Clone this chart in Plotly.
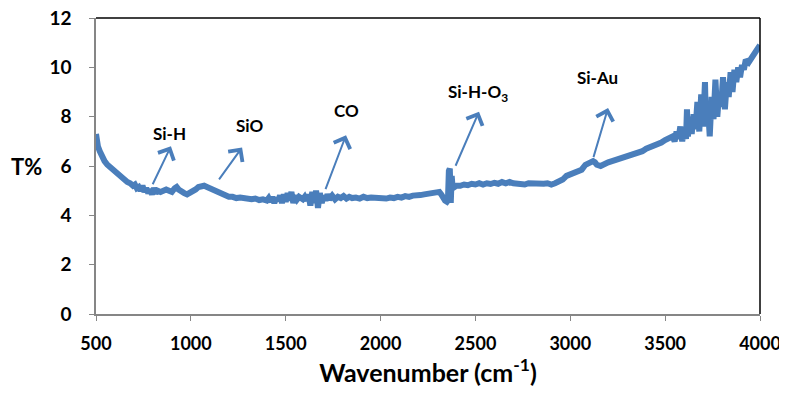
import plotly.graph_objects as go

wavenumber = [500, 505, 510, 520, 530, 545, 560, 575, 590, 605, 620, 635, 650, 665, 680, 695, 705, 715, 725, 735,
              745, 755, 765, 775, 785, 795, 805, 815, 825, 840, 855, 870, 885, 900, 915, 925, 935, 950, 965, 980,
              995, 1010, 1025, 1040, 1055, 1070, 1085, 1100, 1115, 1130, 1145, 1160, 1180, 1200, 1220, 1240, 1260,
              1280, 1300, 1320, 1340, 1360, 1380, 1400, 1410, 1420, 1430, 1440, 1450, 1460, 1470, 1480, 1490, 1500,
              1510, 1520, 1530, 1540, 1550, 1560, 1570, 1580, 1590, 1600, 1610, 1620, 1630, 1640, 1650, 1660, 1670,
              1680, 1690, 1700, 1710, 1720, 1730, 1745, 1760, 1775, 1790, 1805, 1820, 1835, 1850, 1870, 1890, 1910,
              1930, 1950, 1970, 1990, 2010, 2030, 2050, 2070, 2090, 2110, 2130, 2150, 2170, 2190, 2210, 2230, 2250,
              2270, 2290, 2310, 2320, 2330, 2340, 2350, 2355, 2360, 2365, 2370, 2375, 2380, 2390, 2400, 2420, 2440,
              2460, 2480, 2500, 2520, 2540, 2560, 2580, 2600, 2620, 2640, 2660, 2680, 2700, 2720, 2740, 2760, 2780,
              2800, 2820, 2840, 2860, 2880, 2900, 2920, 2940, 2960, 2980, 3000, 3020, 3040, 3060, 3080, 3100, 3120,
              3130, 3140, 3160, 3180, 3200, 3220, 3240, 3260, 3280, 3300, 3320, 3340, 3360, 3380, 3400, 3420, 3440,
              3460, 3480, 3500, 3520, 3540, 3550, 3560, 3570, 3580, 3590, 3600, 3610, 3615, 3620, 3630, 3640, 3650,
              3660, 3670, 3680, 3690, 3700, 3710, 3715, 3725, 3735, 3745, 3755, 3765, 3775, 3785, 3795, 3805, 3815,
              3825, 3835, 3845, 3855, 3865, 3875, 3885, 3895, 3905, 3915, 3925, 3940, 3955, 3970, 3985, 4000]

transmittance = [7.3, 7.0, 6.8, 6.6, 6.4, 6.2, 6.05, 5.95, 5.8, 5.7, 5.6, 5.5, 5.45, 5.35, 5.3, 5.2, 5.25, 5.1, 5.15, 5.0,
                 5.2, 4.95, 5.1, 4.9, 5.05, 4.85, 5.1, 4.9, 5.0, 4.95, 5.0, 5.05, 5.0, 4.95, 5.1, 5.15, 5.05, 4.95, 4.9, 4.85,
                 4.9, 4.95, 5.05, 5.15, 5.2, 5.2, 5.15, 5.1, 5.0, 4.95, 4.9, 4.85, 4.8, 4.75, 4.75, 4.7, 4.72,
                 4.68, 4.7, 4.65, 4.68, 4.62, 4.65, 4.6, 4.7, 4.55, 4.75, 4.5, 4.7, 4.6, 4.8, 4.5, 4.85, 4.55,
                 4.9, 4.6, 4.95, 4.5, 4.8, 4.65, 4.75, 4.7, 4.65, 4.75, 4.6, 4.85, 4.4, 4.95, 4.5, 5.0, 4.3,
                 4.9, 4.5, 4.8, 4.6, 4.85, 4.65, 4.8, 4.65, 4.75, 4.7, 4.78, 4.68, 4.75, 4.7, 4.72, 4.68, 4.75,
                 4.7, 4.72, 4.7, 4.68, 4.7, 4.68, 4.72, 4.7, 4.75, 4.72, 4.78, 4.75, 4.8, 4.78, 4.82, 4.85, 4.88,
                 4.85, 4.9, 4.95, 4.85, 4.7, 4.6, 4.55, 4.6, 5.8, 5.9, 4.5, 5.6, 5.1, 5.15, 5.2, 5.2, 5.25,
                 5.22, 5.28, 5.25, 5.3, 5.25, 5.3, 5.27, 5.32, 5.28, 5.35, 5.3, 5.35, 5.3, 5.28, 5.32, 5.25, 5.3,
                 5.28, 5.32, 5.25, 5.28, 5.3, 5.25, 5.3, 5.35, 5.45, 5.6, 5.65, 5.75, 5.8, 5.85, 6.05, 6.1, 6.2,
                 6.15, 6.05, 6.0, 6.1, 6.15, 6.2, 6.25, 6.3, 6.3, 6.4, 6.42, 6.5, 6.55, 6.6, 6.7, 6.75, 6.8,
                 6.9, 6.95, 7.05, 7.1, 7.2, 7.0, 7.4, 7.1, 7.6, 7.0, 7.5, 7.1, 8.3, 7.2, 8.0, 7.3, 8.1,
                 7.5, 8.6, 7.4, 8.9, 7.6, 9.4, 7.8, 8.5, 7.2, 8.8, 7.9, 9.5, 8.0, 9.0, 8.4, 9.6, 8.3,
                 9.4, 8.8, 9.8, 9.0, 9.9, 9.4, 10.0, 9.6, 10.1, 9.9, 10.3, 10.2, 10.4, 10.5, 10.7, 10.9]

x_ticks = [500, 1000, 1500, 2000, 2500, 3000, 3500, 4000]
y_ticks = [0, 2, 4, 6, 8, 10, 12]

labels = ["Si-H", "SiO", "CO", "Si-H-O<sub>3</sub>", "Si-Au"]
tail_wn = [795, 1143, 1707, 2392, 3120]
tail_t = [5.2, 5.4, 5.0, 5.95, 6.3]
head_wn = [895, 1270, 1818, 2519, 3199]
head_t = [6.8, 6.75, 7.25, 8.2, 8.35]
label_wn = [890, 1307, 1823, 2514, 3146]
label_t = [7.33, 7.66, 8.27, 8.96, 9.57]

BLUE = "#4A7EBB"
FONT = "Lato"

fig = go.Figure()
fig.add_trace(go.Scatter(x=wavenumber, y=transmittance, mode="lines",
                         line=dict(color=BLUE, width=6), showlegend=False))

for i, lab in enumerate(labels):
    fig.add_annotation(x=head_wn[i], y=head_t[i], ax=tail_wn[i], ay=tail_t[i],
                       xref="x", yref="y", axref="x", ayref="y",
                       text="", showarrow=True, arrowhead=4, arrowsize=1.7,
                       arrowwidth=2, arrowcolor=BLUE)
    fig.add_annotation(x=label_wn[i], y=label_t[i], xref="x", yref="y",
                       text=lab, showarrow=False,
                       font=dict(family=FONT, size=17, color="black", weight="bold"))

# page body has an 8px margin, so the figure is drawn at (8, 8)
fig.update_layout(
    width=779, height=393,
    margin=dict(l=88, r=27, t=10, b=87, autoexpand=False),
    paper_bgcolor="white", plot_bgcolor="white",
    font=dict(family=FONT, color="black"),
    shapes=[
        dict(type="line", xref="paper", yref="paper", x0=0, x1=1, y0=1, y1=1,
             line=dict(color="black", width=1.5)),
        dict(type="line", xref="paper", yref="paper", x0=1, x1=1, y0=0, y1=1,
             line=dict(color="black", width=1.5)),
    ],
)

fig.update_xaxes(range=[500, 4000], tickvals=x_ticks, ticktext=[str(v) for v in x_ticks],
                 automargin=False, ticklabeloverflow="allow",
                 showgrid=False, zeroline=False, showline=True, linecolor="#868686", linewidth=1.5,
                 ticks="outside", ticklen=5, tickcolor="#868686", ticklabelstandoff=8,
                 tickfont=dict(family=FONT, size=18, weight="bold", color="black"),
                 title=dict(text="Wavenumber (cm<sup>-1</sup>)",
                            font=dict(family=FONT, size=25, weight="bold", color="black"),
                            standoff=10))
fig.update_yaxes(range=[0, 12], tickvals=y_ticks, ticktext=[str(v) for v in y_ticks],
                 automargin=False, ticklabeloverflow="allow",
                 showgrid=False, zeroline=False, showline=True, linecolor="#868686", linewidth=1.5,
                 ticks="outside", ticklen=5, tickcolor="#868686", ticklabelstandoff=14,
                 tickfont=dict(family=FONT, size=19, weight="bold", color="black"),
                 title=None)

fig.add_annotation(x=-0.104, y=0.497, xref="paper", yref="paper", text="T%", showarrow=False,
                   xanchor="center", yanchor="middle",
                   font=dict(family=FONT, size=22, weight="bold", color="black"))

fig.write_html("out.html")
